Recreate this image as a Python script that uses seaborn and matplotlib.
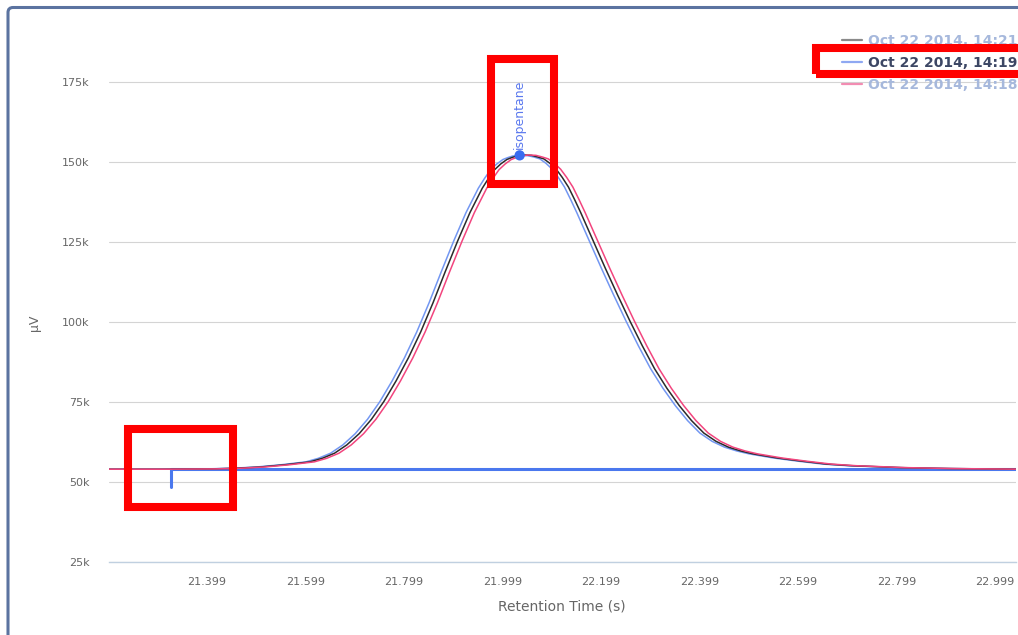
import matplotlib
matplotlib.use("Agg")
import matplotlib.pyplot as plt
import matplotlib.patches as mpatches
from matplotlib.transforms import IdentityTransform
from matplotlib.lines import Line2D
from matplotlib.ticker import FixedLocator, FuncFormatter
import seaborn as sns
import pandas as pd

# ---------------- data (retention time in s, signal in kµV) ----------------
series_names = ["Oct 22 2014, 14:21", "Oct 22 2014, 14:19", "Oct 22 2014, 14:18"]

t_1421 = [21.20, 21.308, 21.408, 21.458, 21.508, 21.558, 21.608, 21.633, 21.658, 21.683,
          21.708, 21.733, 21.758, 21.783, 21.808, 21.833, 21.858, 21.883, 21.908, 21.933,
          21.958, 21.9705, 21.983, 21.9955, 22.008, 22.018, 22.028, 22.043, 22.058, 22.0705,
          22.083, 22.0955, 22.108, 22.1205, 22.133, 22.1455, 22.158, 22.183, 22.208, 22.233,
          22.258, 22.283, 22.308, 22.333, 22.358, 22.383, 22.408, 22.433, 22.458, 22.483,
          22.508, 22.558, 22.608, 22.658, 22.708, 22.808, 22.908, 23.05]
v_1421 = [54.0, 54.0, 54.1, 54.3, 54.7, 55.4, 56.3, 57.4, 59.0, 61.6,
          65.1, 69.6, 75.1, 81.6, 88.8, 96.9, 106.0, 115.8, 125.3, 134.2,
          141.8, 144.85, 147.6, 149.4, 150.8, 151.4, 151.9, 152.2, 152.1, 151.6,
          151.0, 149.6, 147.8, 145.2, 142.2, 138.3, 134.2, 125.5, 116.8, 108.4,
          100.3, 92.6, 85.4, 79.3, 73.9, 69.2, 65.3, 62.7, 60.9, 59.7,
          58.8, 57.5, 56.5, 55.6, 55.1, 54.5, 54.2, 54.0]

t_1419 = [21.20, 21.30, 21.40, 21.45, 21.50, 21.55, 21.60, 21.625, 21.65, 21.675,
          21.70, 21.725, 21.75, 21.775, 21.80, 21.825, 21.85, 21.875, 21.90, 21.925,
          21.95, 21.9625, 21.975, 21.9875, 22.00, 22.01, 22.02, 22.035, 22.05, 22.0625,
          22.075, 22.0875, 22.10, 22.1125, 22.125, 22.1375, 22.15, 22.175, 22.20, 22.225,
          22.25, 22.275, 22.30, 22.325, 22.35, 22.375, 22.40, 22.425, 22.45, 22.475,
          22.50, 22.55, 22.60, 22.65, 22.70, 22.80, 22.90, 23.05]
v_1419 = [54.0, 54.0, 54.1, 54.3, 54.7, 55.4, 56.3, 57.4, 59.0, 61.6,
          65.1, 69.6, 75.1, 81.6, 88.8, 96.9, 106.0, 115.8, 125.3, 134.2,
          141.8, 144.85, 147.6, 149.4, 150.8, 151.4, 151.9, 152.1, 152.0, 151.6,
          151.0, 149.6, 147.8, 145.2, 142.2, 138.3, 134.2, 125.5, 116.8, 108.4,
          100.3, 92.6, 85.4, 79.3, 73.9, 69.2, 65.3, 62.7, 60.9, 59.7,
          58.8, 57.5, 56.5, 55.6, 55.1, 54.5, 54.2, 54.0]

t_1418 = [21.20, 21.317, 21.417, 21.467, 21.517, 21.567, 21.617, 21.642, 21.667, 21.692,
          21.717, 21.742, 21.767, 21.792, 21.817, 21.842, 21.867, 21.892, 21.917, 21.942,
          21.967, 21.9795, 21.992, 22.0045, 22.017, 22.027, 22.037, 22.052, 22.067, 22.0795,
          22.092, 22.1045, 22.117, 22.1295, 22.142, 22.1545, 22.167, 22.192, 22.217, 22.242,
          22.267, 22.292, 22.317, 22.342, 22.367, 22.392, 22.417, 22.442, 22.467, 22.492,
          22.517, 22.567, 22.617, 22.667, 22.717, 22.817, 22.917, 23.05]
v_1418 = [54.0, 54.0, 54.1, 54.3, 54.7, 55.4, 56.3, 57.4, 59.0, 61.6,
          65.1, 69.6, 75.1, 81.6, 88.8, 96.9, 106.0, 115.8, 125.3, 134.2,
          141.8, 144.85, 147.6, 149.4, 150.8, 151.4, 151.9, 152.2, 152.1, 151.6,
          151.0, 149.6, 147.8, 145.2, 142.2, 138.3, 134.2, 125.5, 116.8, 108.4,
          100.3, 92.6, 85.4, 79.3, 73.9, 69.2, 65.3, 62.7, 60.9, 59.7,
          58.8, 57.5, 56.5, 55.6, 55.1, 54.5, 54.2, 54.0]

# integration baseline of the selected run (14:19)
baseline_t = [21.325, 21.325, 23.05]
baseline_v = [48.4, 54.0, 54.0]

# identified peak
peak_name = "isopentane"
peak_t = [22.034]
peak_v = [152.1]

y_ticks = [25, 50, 75, 100, 125, 150, 175]
x_ticks = [21.399, 21.599, 21.799, 21.999, 22.199, 22.399, 22.599, 22.799, 22.999]

colors = {"Oct 22 2014, 14:21": "#2b2b2b",
          "Oct 22 2014, 14:19": "#7397f2",
          "Oct 22 2014, 14:18": "#f2457e"}

# ---------------- figure ----------------
sns.set_style("white")
plt.rcParams["font.family"] = ["DejaVu Sans"]

W, H = 1018, 635
fig = plt.figure(figsize=(W / 100, H / 100), dpi=100)
fig.patch.set_facecolor("white")
ax = fig.add_axes([109 / W, 1 - 562 / H, (1016 - 109) / W, (562 - 20) / H])

df = pd.concat([
    pd.DataFrame({"t": t_1419, "v": v_1419, "run": series_names[1]}),
    pd.DataFrame({"t": t_1421, "v": v_1421, "run": series_names[0]}),
    pd.DataFrame({"t": t_1418, "v": v_1418, "run": series_names[2]}),
], ignore_index=True)

sns.lineplot(data=df, x="t", y="v", hue="run", palette=colors, estimator=None,
             sort=False, linewidth=1.1, legend=False, ax=ax, zorder=3)

base_df = pd.DataFrame({"t": baseline_t, "v": baseline_v})
sns.lineplot(data=base_df, x="t", y="v", estimator=None, sort=False, color="#4a78ee",
             linewidth=2.2, ax=ax, zorder=2)

peak_df = pd.DataFrame({"t": peak_t, "v": peak_v})
sns.scatterplot(data=peak_df, x="t", y="v", color="#3a6cf0", s=55, edgecolor="none",
                ax=ax, zorder=5)
ax.annotate(peak_name, (peak_t[0], peak_v[0]), xytext=(0, 4.5), textcoords="offset points",
            rotation=90, ha="center", va="bottom", fontsize=9, color="#5a78ee", zorder=6)

ax.set_xlim(21.2, 23.042)
ax.set_ylim(25, 194.4)

ax.yaxis.set_major_locator(FixedLocator(y_ticks))
ax.yaxis.set_major_formatter(FuncFormatter(lambda v, p: f"{v:.0f}k"))
ax.xaxis.set_major_locator(FixedLocator(x_ticks))
ax.xaxis.set_major_formatter(FuncFormatter(lambda v, p: f"{v:.3f}"))

ax.grid(axis="y", color="#d4d4d4", linewidth=0.8)
ax.grid(axis="x", visible=False)
ax.set_axisbelow(True)
for s in ["top", "right", "left"]:
    ax.spines[s].set_visible(False)
ax.spines["bottom"].set_color("#c0d0e0")
ax.spines["bottom"].set_linewidth(1.0)

ax.tick_params(axis="x", direction="out", length=7.2, width=0.8, color="#c0d0e0",
               labelsize=8, labelcolor="#666666", pad=3.5)
ax.tick_params(axis="y", length=0, labelsize=8, labelcolor="#666666", pad=14)

ax.set_xlabel("Retention Time (s)", fontsize=10, color="#666666")
ax.set_ylabel("μV", fontsize=9, color="#666666")
ax.xaxis.set_label_coords((562 - 109) / 907, -(607 - 562) / 542)
ax.xaxis.label.set_va("center")
ax.yaxis.set_label_coords((35 - 109) / 907, (562 - 323) / 542)
ax.yaxis.label.set_va("center")

# legend
handles = [Line2D([], [], color="#8a8a8a", lw=1.6),
           Line2D([], [], color="#8fa8f2", lw=1.6),
           Line2D([], [], color="#f28cb2", lw=1.6)]
leg = fig.legend(handles, series_names, loc="upper left",
                 bbox_to_anchor=(842 / W, 1 - 34 / H), frameon=False,
                 prop={"weight": "bold", "size": 10}, handlelength=1.44,
                 handletextpad=0.43, labelspacing=0.58, borderpad=0, borderaxespad=0)
text_cols = ["#a6b8dc", "#3c4664", "#a6b8dc"]
for txt, c in zip(leg.get_texts(), text_cols):
    txt.set_color(c)

# container frame
frame = mpatches.FancyBboxPatch((8, -30), 1060, H - 7.5 + 30,
                                boxstyle="round,pad=0,rounding_size=5",
                                transform=IdentityTransform(), fill=False,
                                ec="#5b73a0", lw=2.2)
fig.add_artist(frame)

# red highlight boxes (screenshot annotations)
for (x0, y0, x1, y1) in [(815.5, 48, 1060, 74), (491, 59, 554, 183.5), (127.5, 429, 233, 506.5)]:
    r = mpatches.Rectangle((x0, H - y1), x1 - x0, y1 - y0, transform=IdentityTransform(),
                           fill=False, ec="#ff0000", lw=5.8, joinstyle="miter", zorder=10)
    fig.add_artist(r)

fig.savefig("out.png", dpi=100, facecolor="white")
